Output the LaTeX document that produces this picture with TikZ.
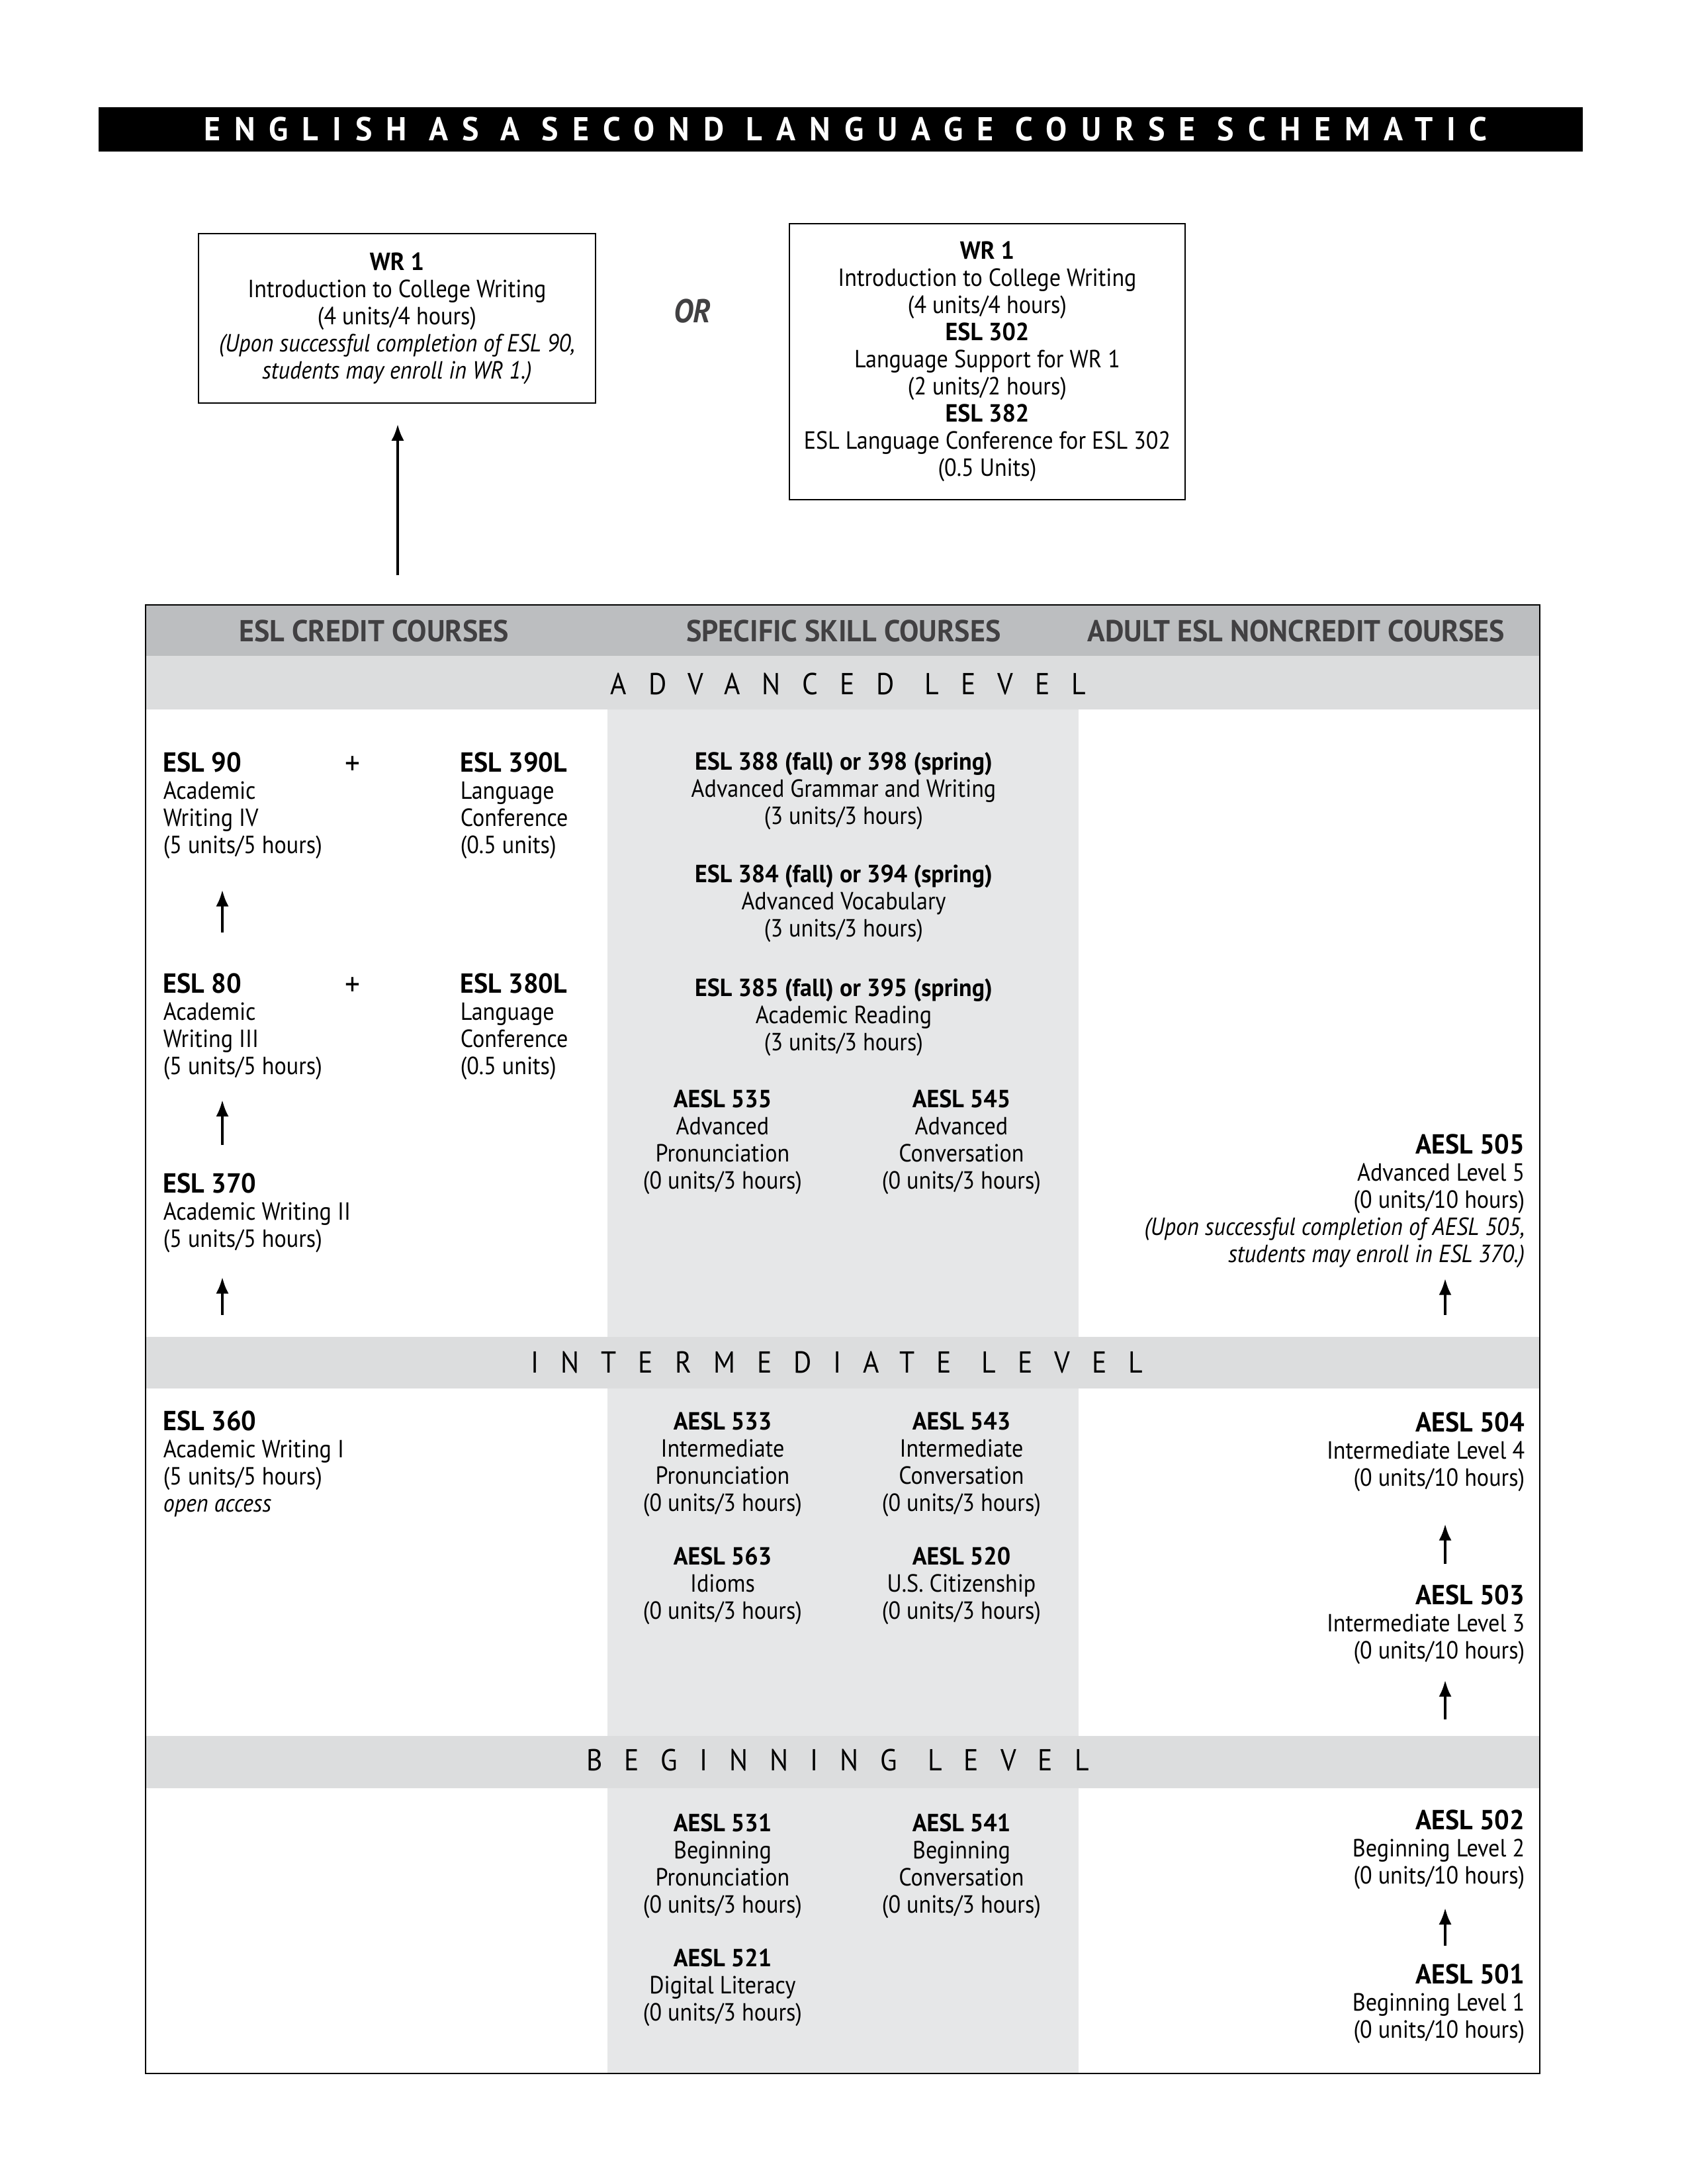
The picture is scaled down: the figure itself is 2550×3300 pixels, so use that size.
\documentclass[tikz,border=0pt]{standalone}
\usepackage{fontspec}
\setmainfont{PT Sans}[FakeStretch=0.91,BoldFeatures={FakeStretch=0.96}]
\usetikzlibrary{arrows.meta,positioning}
\definecolor{hdrgray}{HTML}{BCBEC0}
\definecolor{lvlgray}{HTML}{DCDDDE}
\definecolor{colgray}{HTML}{E6E7E8}
\definecolor{hdrtext}{HTML}{414042}
\newcommand{\crs}[1]{{\bfseries\fontsize{10}{9.84}\selectfont #1}}
\newcommand{\crm}[1]{{\bfseries #1}}

\begin{document}
\begin{tikzpicture}[x=0.24pt,y=-0.24pt,
    txt/.style={inner sep=0pt,font=\fontsize{9}{9.84}\selectfont},
    ctxt/.style={txt,align=center,anchor=north},
    ltxt/.style={txt,align=left,anchor=north west},
    rtxt/.style={txt,align=right,anchor=north east},
    box/.style={draw,line width=0.5pt},
    arr/.style={-{Latex[length=6pt,width=4.6pt]},line width=1pt},
    lvl/.style={inner sep=0pt,font=\fontsize{11}{12}\selectfont\addfontfeatures{LetterSpace=72}},
    hdr/.style={inner sep=0pt,text=hdrtext,font=\fontsize{11}{12}\selectfont\bfseries}]
  \useasboundingbox (0,0) rectangle (2550,3300);

  % title and the two WR 1 options
  \fill (149,162) rectangle (2392,229);
  \node[inner sep=0pt,text=white,font=\fontsize{12}{12}\selectfont\bfseries\addfontfeatures{LetterSpace=42}] (title) at (1278,195) {ENGLISH AS A SECOND LANGUAGE COURSE SCHEMATIC};
  \node[box,ctxt,anchor=center,minimum width=143.8pt,minimum height=61.4pt] (wr1a) at (600,481)
    {\crm{WR 1}\\Introduction to College Writing\\(4 units/4 hours)\\\textit{(Upon successful completion of ESL 90,}\\\textit{students may enroll in WR 1.)}};
  \node[inner sep=0pt,text=hdrtext,font=\fontsize{12}{12}\selectfont\bfseries\itshape] (or) at (1046,470) {OR};
  \node[box,ctxt,anchor=center,minimum width=143.5pt,minimum height=100.1pt] (wr1b) at (1492,546.5)
    {\crm{WR 1}\\Introduction to College Writing\\(4 units/4 hours)\\\crm{ESL 302}\\Language Support for WR 1\\(2 units/2 hours)\\\crm{ESL 382}\\ESL Language Conference for ESL 302\\(0.5 Units)};

  % table bands
  \fill[hdrgray] (220,914) rectangle (2327,991);
  \fill[lvlgray] (220,991) rectangle (2327,1072);
  \fill[colgray] (918,1072) rectangle (1630,2020);
  \fill[lvlgray] (220,2020) rectangle (2327,2098);
  \fill[colgray] (918,2098) rectangle (1630,2623);
  \fill[lvlgray] (220,2623) rectangle (2327,2702);
  \fill[colgray] (918,2702) rectangle (1630,3133);
  \draw[line width=0.6pt] (220,914) rectangle (2327,3133);

  \node[hdr] (hcredit) at (565,953) {ESL CREDIT COURSES};
  \node[hdr] (hskill) at (1275,953) {SPECIFIC SKILL COURSES};
  \node[hdr] (hnoncr) at (1959,953) {ADULT ESL NONCREDIT COURSES};
  \node[lvl] (advlvl) at (1282,1033) {ADVANCED\hspace{1em}LEVEL};
  \node[lvl] (intlvl) at (1265,2058) {INTERMEDIATE\hspace{1em}LEVEL};
  \node[lvl] (beglvl) at (1266,2659) {BEGINNING\hspace{1em}LEVEL};

  % advanced level
  \node[ltxt] (esl90) at (246,1136) {\crs{ESL 90}\\Academic\\Writing IV\\(5 units/5 hours)};
  \node[txt,font=\fontsize{12}{12}\selectfont] (plus1) at (533,1157) {+};
  \node[ltxt] (esl390l) at (695,1136) {\crs{ESL 390L}\\Language\\Conference\\(0.5 units)};
  \node[ltxt] (esl80) at (246,1470) {\crs{ESL 80}\\Academic\\Writing III\\(5 units/5 hours)};
  \node[txt,font=\fontsize{12}{12}\selectfont] (plus2) at (533,1491) {+};
  \node[ltxt] (esl380l) at (695,1470) {\crs{ESL 380L}\\Language\\Conference\\(0.5 units)};
  \node[ltxt] (esl370) at (246,1772) {\crs{ESL 370}\\Academic Writing II\\(5 units/5 hours)};

  \node[ctxt] (esl388) at (1275,1136) {\crm{ESL 388 (fall) or 398 (spring)}\\Advanced Grammar and Writing\\(3 units/3 hours)};
  \node[ctxt] (esl384) at (1275,1306) {\crm{ESL 384 (fall) or 394 (spring)}\\Advanced Vocabulary\\(3 units/3 hours)};
  \node[ctxt] (esl385) at (1275,1478) {\crm{ESL 385 (fall) or 395 (spring)}\\Academic Reading\\(3 units/3 hours)};
  \node[ctxt] (aesl535) at (1092,1646) {\crm{AESL 535}\\Advanced\\Pronunciation\\(0 units/3 hours)};
  \node[ctxt] (aesl545) at (1453,1646) {\crm{AESL 545}\\Advanced\\Conversation\\(0 units/3 hours)};

  \node[rtxt] (aesl505) at (2305,1713) {\crs{AESL 505}\\Advanced Level 5\\(0 units/10 hours)\\\textit{(Upon successful completion of AESL 505,}\\\textit{students may enroll in ESL 370.)}};

  % intermediate level
  \node[ltxt] (esl360) at (246,2131) {\crs{ESL 360}\\Academic Writing I\\(5 units/5 hours)\\\textit{open access}};
  \node[ctxt] (aesl533) at (1092,2133) {\crm{AESL 533}\\Intermediate\\Pronunciation\\(0 units/3 hours)};
  \node[ctxt] (aesl543) at (1453,2133) {\crm{AESL 543}\\Intermediate\\Conversation\\(0 units/3 hours)};
  \node[ctxt] (aesl563) at (1092,2337) {\crm{AESL 563}\\Idioms\\(0 units/3 hours)};
  \node[ctxt] (aesl520) at (1453,2337) {\crm{AESL 520}\\U.S. Citizenship\\(0 units/3 hours)};
  \node[rtxt] (aesl504) at (2305,2133) {\crs{AESL 504}\\Intermediate Level 4\\(0 units/10 hours)};
  \node[rtxt] (aesl503) at (2305,2394) {\crs{AESL 503}\\Intermediate Level 3\\(0 units/10 hours)};

  % beginning level
  \node[ctxt] (aesl531) at (1092,2740) {\crm{AESL 531}\\Beginning\\Pronunciation\\(0 units/3 hours)};
  \node[ctxt] (aesl541) at (1453,2740) {\crm{AESL 541}\\Beginning\\Conversation\\(0 units/3 hours)};
  \node[ctxt] (aesl521) at (1092,2944) {\crm{AESL 521}\\Digital Literacy\\(0 units/3 hours)};
  \node[rtxt] (aesl502) at (2305,2734) {\crs{AESL 502}\\Beginning Level 2\\(0 units/10 hours)};
  \node[rtxt] (aesl501) at (2305,2967) {\crs{AESL 501}\\Beginning Level 1\\(0 units/10 hours)};

  % arrows
  \coordinate (ax) at (336,0);
  \coordinate (ar) at (2184,0);
  \coordinate (at) at (601,0);
  \draw[arr,shorten <=64pt,shorten >=7.4pt] (esl90.north -| at) -- (wr1a.south -| at);
  \draw[arr,shorten <=14.6pt,shorten >=11pt] (esl80.north -| ax) -- (esl90.south -| ax);
  \draw[arr,shorten <=10pt,shorten >=7pt] (esl370.north -| ax) -- (esl80.south -| ax);
  \draw[arr,shorten <=34.6pt,shorten >=8.6pt] (esl360.north -| ax) -- (esl370.south -| ax);
  \draw[arr,shorten <=35pt,shorten >=3.6pt] (aesl504.north -| ar) -- (aesl505.south -| ar);
  \draw[arr,shorten <=7.4pt,shorten >=11.5pt] (aesl503.north -| ar) -- (aesl504.south -| ar);
  \draw[arr,shorten <=32.6pt,shorten >=5.5pt] (aesl502.north -| ar) -- (aesl503.south -| ar);
  \draw[arr,shorten <=6.5pt,shorten >=6.5pt] (aesl501.north -| ar) -- (aesl502.south -| ar);
\end{tikzpicture}
\end{document}
